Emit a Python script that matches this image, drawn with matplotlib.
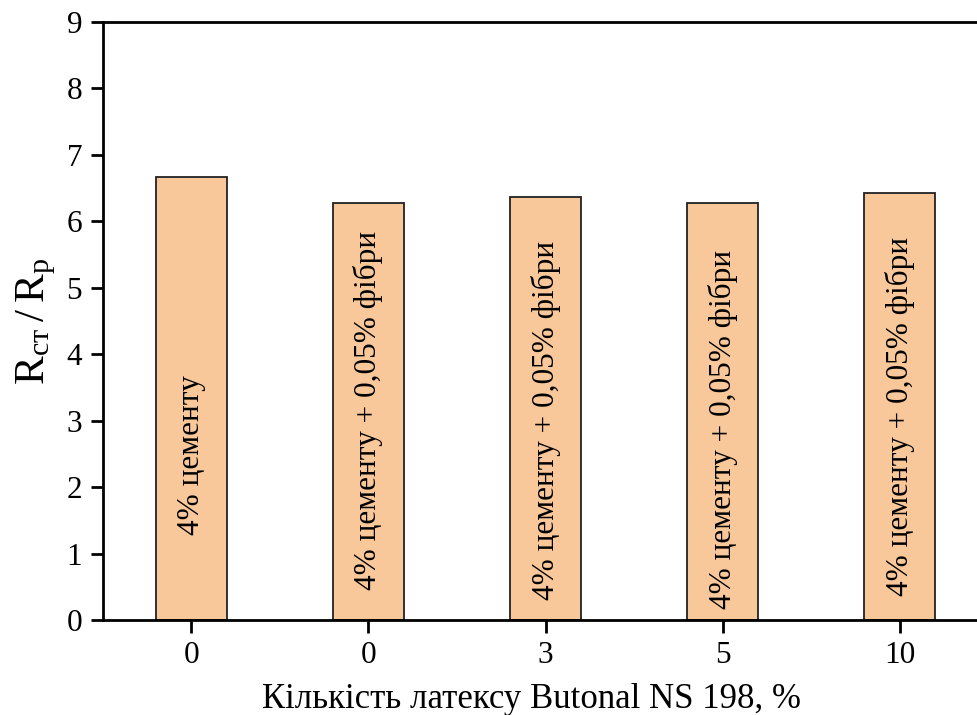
import matplotlib.pyplot as plt
import numpy as np

plt.rcParams['font.family'] = ['Liberation Serif', 'DejaVu Serif']
plt.rcParams['mathtext.fontset'] = 'custom'
plt.rcParams['mathtext.rm'] = 'Liberation Serif'

tick_labels = ['0', '0', '3', '5', '10']
ratio = [6.67, 6.28, 6.37, 6.28, 6.42]
bar_text = ['4% цементу',
            '4% цементу + 0,05% фібри',
            '4% цементу + 0,05% фібри',
            '4% цементу + 0,05% фібри',
            '4% цементу + 0,05% фібри']
text_y = [2.48, 3.15, 3.0, 2.87, 3.07]

fig = plt.figure(figsize=(9.77, 7.15), dpi=100)
ax = fig.add_axes([0.1054, 0.1329, 0.9059, 0.8364])

x = np.arange(len(ratio))
ax.bar(x, ratio, width=0.4, color='#F9C89A', edgecolor='#222222', linewidth=1.3)

for xi, t, ty in zip(x, bar_text, text_y):
    ax.text(xi, ty, t, rotation=90, ha='center', va='center', fontsize=22.5)

ax.set_xlim(-0.5, 4.5)
ax.set_ylim(0, 9)
ax.set_yticks(range(10))
ax.set_xticks(x)
ax.set_xticklabels(tick_labels)
ax.tick_params(direction='out', length=9, width=2, labelsize=22.5, pad=6)

for s in ax.spines.values():
    s.set_linewidth(2)

ax.set_xlabel('Кількість латексу Butonal NS 198, %', fontsize=25)
ax.xaxis.set_label_coords(0.484, -0.105)
ax.set_ylabel(r'$\mathregular{R_{ст}\,/\,R_{р}}$', fontsize=31, labelpad=6)

fig.savefig('out.png', dpi=100)
